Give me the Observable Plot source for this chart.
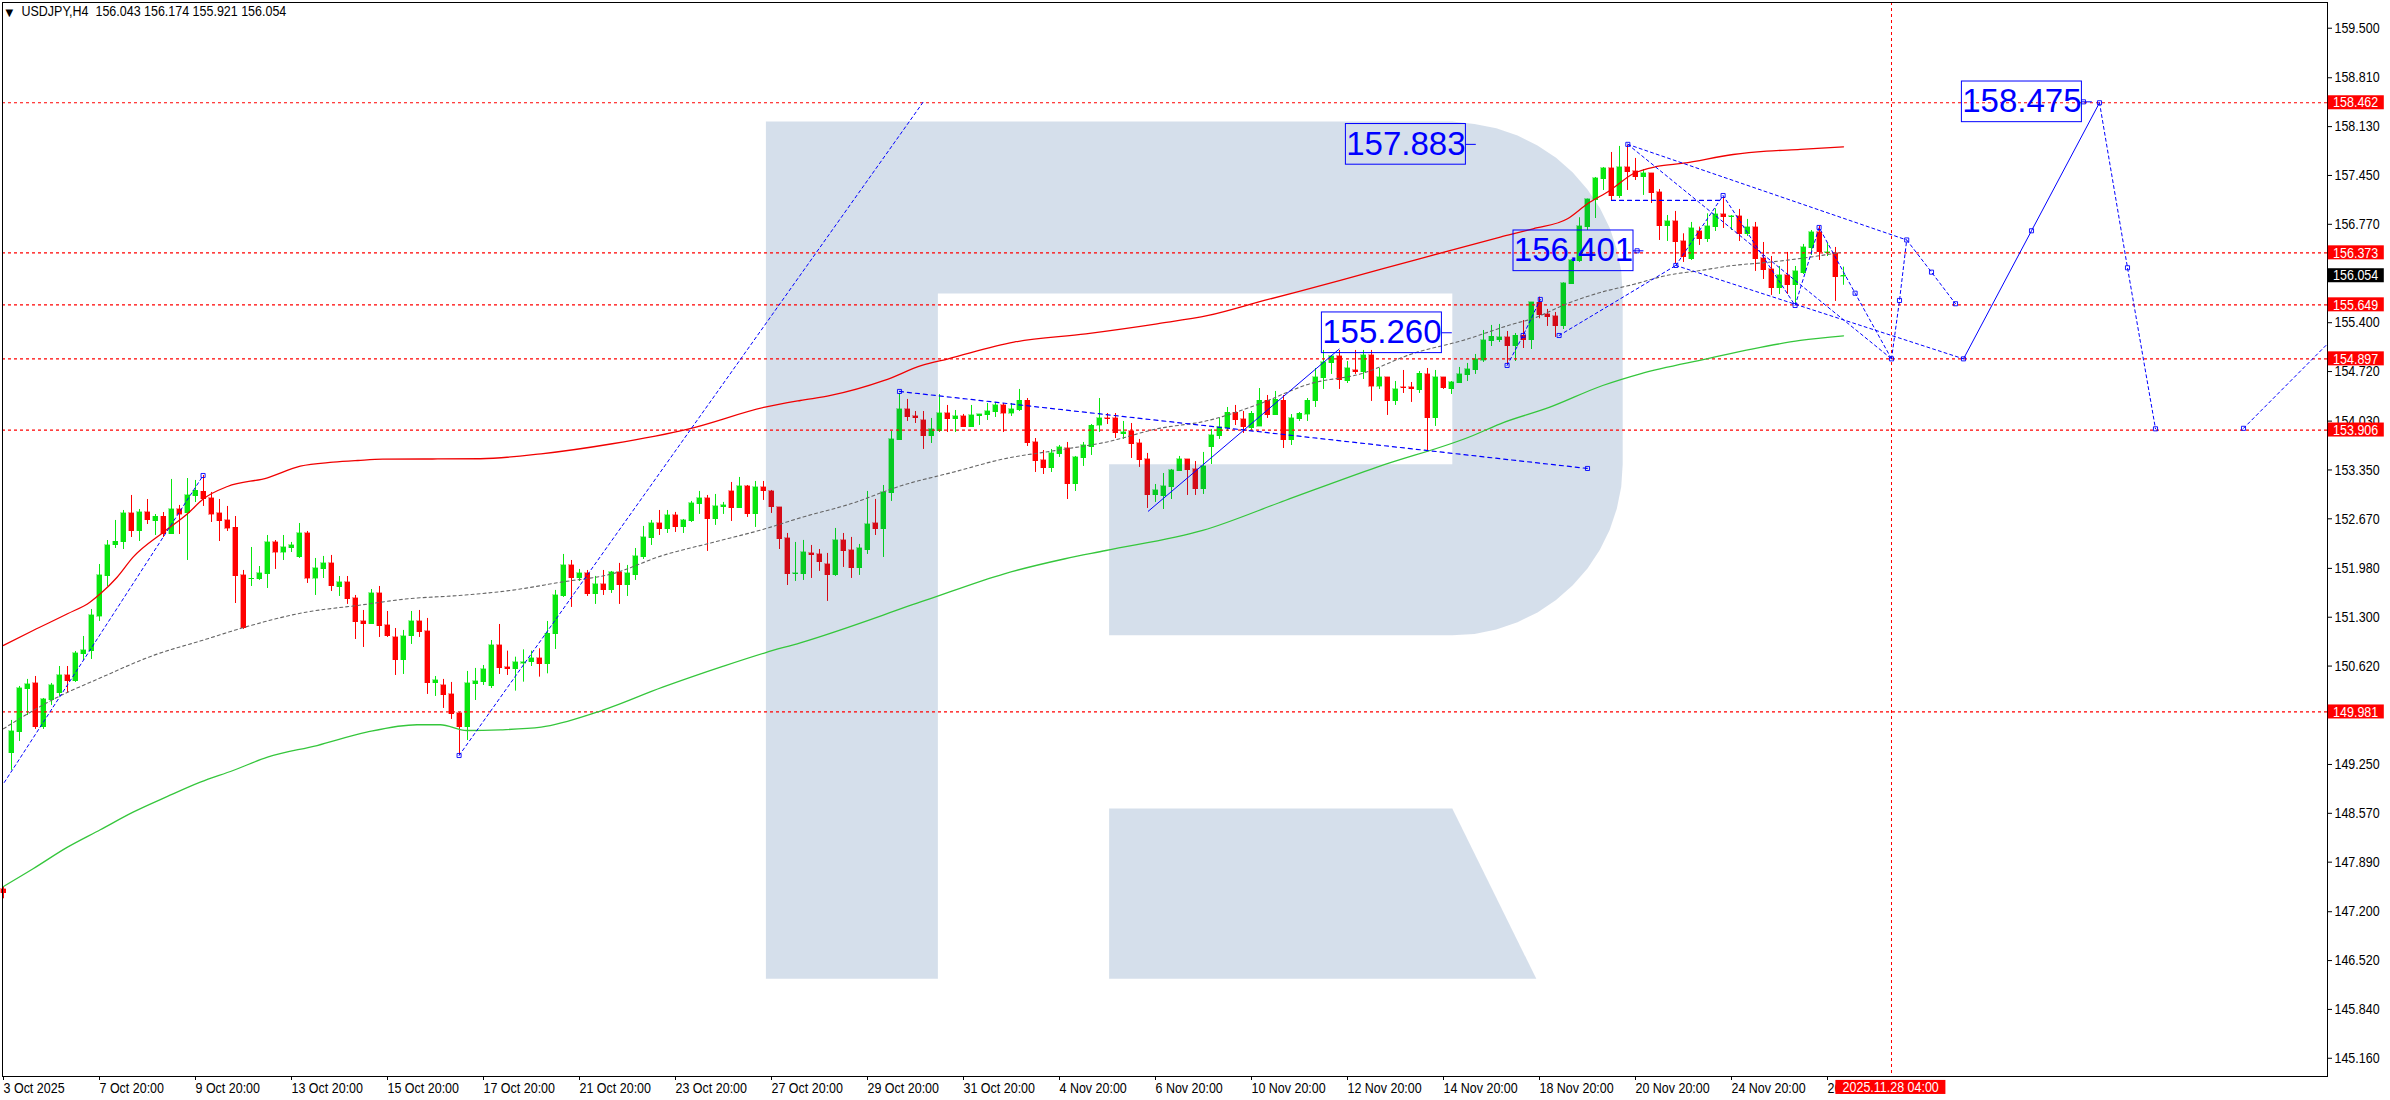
<!DOCTYPE html>
<html><head><meta charset="utf-8">
<style>html,body{margin:0;padding:0;background:#fff}svg{display:block}</style>
<script src="https://cdn.jsdelivr.net/npm/d3@7"></script>
<script src="https://cdn.jsdelivr.net/npm/@observablehq/plot@0.6"></script>
</head><body><div id="chart"></div>
<script>
const opens=[147.510,149.403,149.696,150.294,150.378,149.765,150.141,150.239,150.489,150.406,
150.782,150.823,151.310,151.867,152.299,152.341,152.744,152.494,152.758,152.633,
152.702,152.452,152.800,152.744,152.981,153.050,152.953,152.744,152.647,152.549,
151.881,151.826,151.826,151.895,152.341,152.201,152.257,152.132,152.466,151.839,
151.965,152.048,151.714,151.784,151.561,151.241,151.199,151.631,151.185,151.018,
150.698,151.032,151.241,151.102,150.378,150.350,150.225,149.960,149.765,150.364,
150.392,150.336,150.907,150.605,150.573,150.651,150.670,150.726,150.642,151.060,
151.589,152.021,151.840,151.909,151.617,151.756,151.673,151.923,151.742,151.882,
152.132,152.397,152.605,152.522,152.717,152.550,152.633,152.870,152.953,152.661,
152.828,153.051,152.814,153.120,152.731,153.107,153.051,152.828,152.397,151.896,
151.896,152.188,152.174,152.035,151.882,152.369,152.230,151.979,152.230,152.605,
152.522,153.023,153.761,154.192,154.095,154.039,153.816,153.886,154.137,154.053,
154.095,153.942,154.095,154.109,154.151,154.248,154.136,154.178,154.317,153.733,
153.482,153.371,153.566,153.649,153.148,153.510,153.663,153.969,154.067,154.067,
153.844,153.886,153.719,153.496,152.995,152.981,153.106,153.329,153.496,153.357,
153.079,153.663,153.816,153.928,154.150,154.053,153.928,153.955,154.317,154.109,
154.317,153.761,154.053,154.122,154.304,154.624,154.833,154.930,154.582,154.735,
154.707,154.944,154.512,154.638,154.304,154.499,154.499,154.457,154.680,154.067,
154.638,154.471,154.554,154.666,154.735,154.874,155.139,155.153,155.195,155.069,
155.222,155.153,155.677,155.515,155.487,155.348,155.933,156.253,156.726,157.102,
157.394,157.547,157.158,157.561,157.506,157.422,157.478,157.213,156.740,156.810,
156.531,156.281,156.670,156.559,156.726,156.907,156.865,156.879,156.629,156.726,
156.295,156.142,155.877,156.058,155.919,156.086,156.434,156.657,156.364,156.364,156.043];
const closes=[147.458,149.710,150.308,150.364,149.765,150.155,150.350,150.489,150.406,150.795,
150.837,151.324,151.881,152.299,152.354,152.744,152.494,152.758,152.647,152.702,
152.452,152.800,152.730,152.995,153.064,152.939,152.730,152.633,152.535,151.867,
151.143,151.839,151.909,152.341,152.201,152.271,152.299,152.466,151.839,151.979,
152.048,151.728,151.784,151.547,151.227,151.199,151.631,151.171,151.032,150.698,
151.032,151.241,151.088,150.378,150.420,150.211,149.946,149.765,150.378,150.406,
150.573,150.907,150.587,150.577,150.675,150.670,150.726,150.642,151.069,151.603,
152.021,151.840,151.909,151.617,151.756,151.673,151.923,151.742,151.909,152.146,
152.411,152.605,152.522,152.717,152.550,152.647,152.884,152.953,152.661,152.842,
152.856,152.814,153.120,152.731,153.107,153.051,152.828,152.383,151.896,151.909,
152.202,152.160,152.063,151.882,152.369,152.216,151.979,152.257,152.592,152.522,
153.037,153.775,154.192,154.081,154.067,153.816,153.914,154.137,154.053,154.095,
153.942,154.109,154.123,154.164,154.248,154.136,154.192,154.317,153.719,153.468,
153.371,153.580,153.663,153.148,153.524,153.691,153.969,154.067,154.053,153.858,
153.872,153.705,153.482,152.995,153.065,153.120,153.343,153.496,153.343,153.079,
153.399,153.830,153.942,154.150,154.039,153.942,154.136,154.317,154.109,154.331,
153.761,154.067,154.136,154.317,154.638,154.847,154.930,154.596,154.763,154.707,
154.944,154.512,154.638,154.304,154.471,154.485,154.471,154.693,154.067,154.638,
154.485,154.568,154.680,154.749,154.888,155.153,155.208,155.195,155.069,155.222,
155.153,155.682,155.501,155.473,155.348,155.947,156.267,156.740,157.116,157.408,
157.547,157.158,157.561,157.492,157.422,157.478,157.199,156.740,156.810,156.517,
156.309,156.712,156.559,156.740,156.907,156.865,156.879,156.629,156.726,156.281,
156.128,155.877,156.058,155.919,156.114,156.448,156.657,156.378,156.378,156.030,156.054];
const highs=[147.542,149.863,150.336,150.434,150.475,150.169,150.378,150.614,150.614,150.823,
151.032,151.408,152.034,152.368,152.647,152.786,152.995,152.800,152.939,152.730,
152.758,153.218,152.856,153.231,153.204,153.273,153.037,152.939,152.842,152.702,
151.951,152.271,152.006,152.438,152.368,152.438,152.341,152.605,152.494,152.118,
152.146,152.160,151.867,151.867,151.603,151.394,151.686,151.728,151.380,151.143,
151.116,151.380,151.394,151.283,150.475,150.434,150.392,149.974,150.545,150.587,
150.628,150.976,151.199,150.828,150.744,150.846,150.828,150.860,151.241,151.673,
152.174,152.090,151.965,151.951,151.868,151.951,151.937,152.049,152.021,152.257,
152.564,152.647,152.786,152.786,152.759,152.661,152.912,153.051,152.995,153.009,
152.898,153.176,153.246,153.134,153.190,153.190,153.065,152.828,152.466,152.341,
152.369,152.299,152.243,152.188,152.536,152.466,152.411,152.313,153.051,152.940,
153.134,153.886,154.415,154.332,154.164,154.164,154.067,154.401,154.248,154.178,
154.123,154.248,154.123,154.276,154.290,154.276,154.276,154.471,154.345,153.788,
153.621,153.635,153.691,153.733,153.538,153.733,153.983,154.345,154.136,154.136,
154.025,153.997,153.775,153.580,153.148,153.301,153.357,153.538,153.496,153.468,
153.594,153.914,154.067,154.220,154.248,154.164,154.164,154.484,154.387,154.443,
154.387,154.122,154.150,154.345,154.763,155.014,154.944,155.014,154.860,155.014,
155.014,155.014,154.763,154.638,154.582,154.735,154.568,154.721,154.763,154.735,
154.638,154.582,154.777,154.833,154.958,155.292,155.362,155.376,155.278,155.250,
155.431,155.682,155.756,155.585,155.543,155.956,156.281,156.861,157.121,157.422,
157.561,157.770,157.854,157.868,157.687,157.533,157.478,157.255,156.893,156.949,
156.638,156.796,156.731,156.916,156.986,157.148,156.893,156.977,156.838,156.796,
156.517,156.322,156.183,156.378,156.183,156.490,156.684,156.740,156.503,156.448,156.174];
const lows=[147.380,149.167,149.570,149.932,149.738,149.738,150.072,150.197,150.239,150.392,
150.698,150.712,151.241,151.728,152.257,152.243,152.410,152.354,152.591,152.438,
152.410,152.452,152.452,152.090,152.897,152.842,152.619,152.354,152.494,151.491,
151.130,151.728,151.812,151.700,151.965,152.090,152.201,152.118,151.770,151.603,
151.839,151.658,151.589,151.478,150.990,150.879,151.199,151.018,151.018,150.489,
150.503,150.921,151.018,150.225,150.197,150.030,149.877,149.376,149.584,150.141,
150.350,150.308,150.503,150.489,150.271,150.396,150.614,150.466,150.512,150.851,
151.575,151.436,151.798,151.589,151.478,151.603,151.631,151.478,151.589,151.812,
152.104,152.299,152.438,152.466,152.480,152.466,152.619,152.731,152.216,152.578,
152.731,152.633,152.814,152.689,152.550,152.926,152.745,152.243,151.742,151.798,
151.812,151.840,151.937,151.520,151.868,151.993,151.840,151.882,152.174,152.438,
152.132,152.912,153.761,154.025,153.997,153.636,153.719,153.872,153.872,153.872,
153.942,153.942,153.970,154.039,154.081,153.872,154.095,154.164,153.677,153.315,
153.287,153.315,153.524,152.939,153.051,153.399,153.552,153.872,153.983,153.788,
153.775,153.510,153.385,152.814,152.898,152.800,152.939,153.329,152.995,152.995,
153.009,153.426,153.775,153.886,153.969,153.858,153.900,153.955,154.067,154.109,
153.649,153.691,154.025,154.025,154.220,154.471,154.680,154.471,154.554,154.680,
154.610,154.304,154.471,154.109,154.248,154.415,154.290,154.415,153.608,153.956,
154.471,154.401,154.554,154.582,154.680,154.847,155.069,155.125,154.819,154.860,
155.041,155.027,155.455,155.348,155.195,155.306,155.933,156.239,156.684,156.851,
157.241,157.088,157.130,157.241,157.380,157.172,157.060,156.545,156.531,156.220,
156.239,156.267,156.476,156.517,156.670,156.712,156.684,156.531,156.601,156.114,
156.002,155.780,155.794,155.794,155.654,156.072,156.336,156.267,156.322,155.696,155.921];

const maGrayBar=[0,5.95,12.3,18.7,25.1,30.2,37.8,44.2,50.6,56.95,63.3,69.7,76.1,82.4,88.8,95.2,99.6,105.9,112.3,118.7,125.1,131.5,137.8,144.2,150.6,157,163.3,169.7,176.1,182.4,188.8,191.2,195.5,199.6,203.7,207.9,212.1,216.2,220.4,224.6,229.6];
const maGrayPrice=[149.747,150.141,150.465,150.767,150.986,151.162,151.370,151.463,151.557,151.603,151.672,151.788,151.905,152.160,152.345,152.531,152.684,152.879,153.134,153.319,153.506,153.621,153.737,153.923,154.039,154.271,154.550,154.689,154.968,155.153,155.385,155.459,155.668,155.821,155.932,156.058,156.127,156.197,156.239,156.294,156.378];
const maRedBar=[0,3.7,8,10.8,12.1,14.2,16.2,20,23,25,28,33,37.1,41.2,44.3,47.4,59.6,67.2,76.1,85.7,95.2,99.6,103.4,110.1,114.8,118.1,126.3,135.3,144.2,150.6,157.6,167.1,177.1,187.1,191.2,195.5,198,200.8,203.7,206.7,210,216.2,220.4,224.6,230];
const maRedPrice=[150.907,151.115,151.348,151.509,151.626,151.857,152.136,152.484,152.740,152.949,153.120,153.241,153.403,153.458,153.482,153.500,153.506,153.575,153.715,153.923,154.224,154.317,154.387,154.596,154.805,154.898,155.129,155.246,155.385,155.501,155.710,155.988,156.294,156.591,156.708,156.847,157.056,157.241,157.474,157.575,157.621,157.742,157.788,157.812,157.849];
const maGreenBar=[0,3.7,8,12.1,16.2,20.5,24.6,28.7,33,39.2,45.4,51.7,54.6,57.9,62.1,67.2,74.2,82.4,90,95.2,99.6,115.2,125.1,132.7,137.8,149.9,160.2,171.7,183.7,187.1,193.3,199.9,204.6,212.9,218.7,224.6,230];
const maGreenPrice=[147.552,147.798,148.099,148.341,148.586,148.805,149.003,149.166,149.352,149.514,149.700,149.803,149.803,149.723,149.733,149.769,149.978,150.326,150.619,150.805,150.944,151.533,151.905,152.114,152.229,152.508,152.925,153.389,153.830,153.993,154.224,154.526,154.689,154.898,155.037,155.153,155.218];

const levels=[158.462,156.373,155.649,154.897,153.906,149.981];
const yTicks=[159.5,158.81,158.13,157.45,156.77,155.4,154.72,154.03,153.35,152.67,151.98,151.3,150.62,149.25,148.57,147.89,147.2,146.52,145.84,145.16];
const xTickBars=[0,12,24,36,48,60,72,84,96,108,120,132,144,156,168,180,192,204,216,228];
const xTickLabels=["3 Oct 2025","7 Oct 20:00","9 Oct 20:00","13 Oct 20:00","15 Oct 20:00","17 Oct 20:00","21 Oct 20:00","23 Oct 20:00","27 Oct 20:00","29 Oct 20:00","31 Oct 20:00","4 Nov 20:00","6 Nov 20:00","10 Nov 20:00","12 Nov 20:00","14 Nov 20:00","18 Nov 20:00","20 Nov 20:00","24 Nov 20:00","26 Nov 20:00"];

// wave drawings: id, bar, price
const waveDashed=[
 ["a",0.1,149.0],["a",24.95,153.273],
 ["b",56.95,149.375],["b",115.1,158.494],
 ["e",194.45,155.222],["e",209.04,156.197],
 ["f",203.04,157.883],["f",237.9,156.552],
 ["h",209.04,156.197],["h",245,154.897],
 ["i",203.04,157.883],["i",236,154.897],
 ["j",209.04,156.197],["j",214.95,157.171],["j",223.95,155.640],["j",226.95,156.726],["j",231.45,155.811],["j",236,154.897],
 ["k",236,154.897],["k",237,155.71],["k",237.9,156.552],["k",241,156.104],["k",244,155.664],
 ["m",262,158.462],["m",265.5,156.165],["m",269,153.923],
 ["n",280,153.93],["n",290.3,155.083],
 ["p",187.95,154.805],["p",189.95,155.222],["p",192.1,155.724]
];
const waveThick=[["c",112,154.443],["c",198,153.371],["g",201,157.102],["g",214.9,157.102]];
const waveSolid=[["d",143.1,152.776],["d",166.95,155.032],["l",245,154.897],["l",253.5,156.68],["l",262,158.462]];
const waveNodes=[[24.95,153.273],[56.95,149.375],[112,154.443],[198,153.371],[194.45,155.222],[209.04,156.197],[203.04,157.883],[214.95,157.171],[223.95,155.640],[226.95,156.726],[231.45,155.811],[236,154.897],[237,155.71],[237.9,156.552],[241,156.104],[244,155.664],[245,154.897],[253.5,156.68],[262,158.462],[265.5,156.165],[269,153.923],[280,153.93],[187.95,154.805],[189.95,155.222],[192.1,155.724],[204.2,156.401],[260.0,158.475]];

const callouts=[["157.883",175.3,157.883],["156.401",196.25,156.401],["155.260",172.3,155.260],["158.475",252.3,158.475]];
const logoBody=[[95.3,158.202],[181.1,158.202],[183.88,158.167],[186.6,158.107],[189.25,158.006],[191.75,157.868],[194.07,157.695],[196.16,157.49],[198.0,157.256],[199.55,156.997],[200.78,156.718],[201.67,156.423],[202.22,156.118],[202.4,155.807],[202.4,153.428],[202.22,153.117],[201.67,152.812],[200.78,152.517],[199.55,152.238],[198.0,151.979],[196.16,151.745],[194.07,151.54],[191.75,151.367],[189.25,151.229],[186.6,151.128],[183.88,151.068],[181.1,151.048],[138.2,151.048],[138.2,153.428],[181.1,153.428],[181.1,155.807],[116.8,155.807],[116.8,146.266],[95.3,146.266]];
const logoLeg=[[138.2,148.637],[181.1,148.637],[191.6,146.266],[138.2,146.266]];

const bars=opens.map((o,i)=>({i,o,c:closes[i],h:highs[i],l:lows[i],col:closes[i]>=o?"#08e60f":"#ff0000"}));
const FONT="'Liberation Sans',Arial,sans-serif";
const BLUE="#0000ff";
const TXT=14.6;
const priceTags=levels.map(v=>({v,bg:"#ff0000"})).concat([{v:156.054,bg:"#000000"}]);

const chart=Plot.plot({
  width:2390,height:1100,marginLeft:2,marginRight:63,marginTop:2,marginBottom:24,
  x:{type:"linear",domain:[-0.125,290.5]},
  y:{type:"linear",domain:[144.906,159.858]},
  style:{background:"#fff",fontFamily:FONT,color:"#000"},
  marks:[
    Plot.ruleX(bars,{x:"i",y1:"l",y2:"h",stroke:"col",strokeWidth:1}),
    Plot.rect(bars,{x1:d=>d.i-0.3125,x2:d=>d.i+0.3125,y1:"o",y2:"c",fill:"col",stroke:"col",strokeWidth:0.4,shapeRendering:"crispEdges"}),
    Plot.line(logoBody,{x:d=>d[0],y:d=>d[1],fill:"#003d88",fillOpacity:0.165,stroke:"none"}),
    Plot.line(logoLeg,{x:d=>d[0],y:d=>d[1],fill:"#003d88",fillOpacity:0.165,stroke:"none"}),
    Plot.ruleY(levels,{stroke:"#ff0000",strokeWidth:1.2,strokeDasharray:"3,3"}),
    Plot.ruleX([236],{stroke:"#ff0000",strokeWidth:1,strokeDasharray:"3,3"}),
    Plot.line(maGrayBar.map((b,i)=>[b,maGrayPrice[i]]),{x:d=>d[0],y:d=>d[1],stroke:"#666666",strokeWidth:1.1,strokeDasharray:"3,3",curve:"monotone-x"}),
    Plot.line(maRedBar.map((b,i)=>[b,maRedPrice[i]]),{x:d=>d[0],y:d=>d[1],stroke:"#f00000",strokeWidth:1.3,curve:"monotone-x"}),
    Plot.line(maGreenBar.map((b,i)=>[b,maGreenPrice[i]]),{x:d=>d[0],y:d=>d[1],stroke:"#35c63c",strokeWidth:1.3,curve:"monotone-x"}),
    Plot.line(waveDashed,{x:d=>d[1],y:d=>d[2],z:d=>d[0],stroke:BLUE,strokeWidth:1,strokeDasharray:"3,3"}),
    Plot.line(waveThick,{x:d=>d[1],y:d=>d[2],z:d=>d[0],stroke:BLUE,strokeWidth:1.2,strokeDasharray:"4,4"}),
    Plot.line(waveSolid,{x:d=>d[1],y:d=>d[2],z:d=>d[0],stroke:BLUE,strokeWidth:1}),
    Plot.dot(waveNodes,{x:d=>d[0],y:d=>d[1],symbol:"square",r:2.3,fill:"none",stroke:BLUE,strokeWidth:0.9}),
    Plot.rect(callouts,{x1:d=>d[1]-7.5,x2:d=>d[1]+7.5,y1:d=>d[2]-0.283,y2:d=>d[2]+0.283,fill:"none",stroke:BLUE,strokeWidth:1}),
    Plot.ruleY(callouts,{x1:d=>d[1]+7.5,x2:d=>d[1]+8.8,y:d=>d[2],stroke:BLUE,strokeWidth:1}),
    Plot.text(callouts,{x:d=>d[1],y:d=>d[2],text:d=>d[0],fill:BLUE,fontSize:33,fontFamily:FONT,lineAnchor:"middle"}),
    Plot.frame({stroke:"#000",strokeWidth:1}),
    Plot.axisY({anchor:"right",ticks:yTicks,tickFormat:d=>d.toFixed(3),tickSize:4,tickPadding:3,fontSize:TXT,label:null}),
    Plot.axisX({anchor:"bottom",ticks:xTickBars,tickFormat:d=>xTickLabels[xTickBars.indexOf(d)],tickSize:4,tickPadding:2,fontSize:TXT,textAnchor:"start",label:null}),
    Plot.rect(priceTags,{x1:290.6,x2:297.6,y1:d=>d.v-0.0975,y2:d=>d.v+0.0975,fill:"bg"}),
    Plot.text(priceTags,{x:291.2,y:"v",text:d=>d.v.toFixed(3),fill:"#fff",fontSize:TXT,textAnchor:"start",lineAnchor:"middle"}),
    Plot.rect([0],{x1:229.05,x2:242.8,y1:144.656,y2:144.851,fill:"#ff0000"}),
    Plot.text(["2025.11.28 04:00"],{x:235.9,y:144.754,fill:"#fff",fontSize:TXT,lineAnchor:"middle"}),
    Plot.text(["▼"],{frameAnchor:"top-left",dx:3,dy:6,fontSize:10,fontFamily:"'DejaVu Sans'",fill:"#000",textAnchor:"start"}),
    Plot.text(["USDJPY,H4  156.043 156.174 155.921 156.054"],{frameAnchor:"top-left",dx:19,dy:3,fontSize:TXT,fill:"#000",textAnchor:"start",style:{whiteSpace:"pre"}})
  ]
});
document.getElementById("chart").append(chart);
// The reference uses a tall, narrow system face: condense the small labels horizontally.
chart.querySelectorAll("text").forEach(t=>{
  if(getComputedStyle(t).fontSize==="14.6px"){
    t.setAttribute("textLength",(t.getComputedTextLength()*0.855).toFixed(1));
    t.setAttribute("lengthAdjust","spacingAndGlyphs");
  }
});
</script></body></html>
